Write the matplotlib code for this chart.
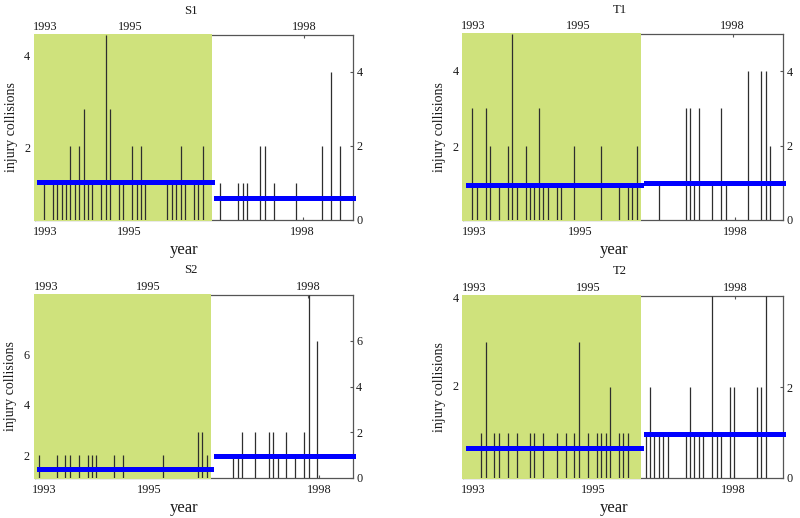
import matplotlib
matplotlib.use("Agg")
import matplotlib.pyplot as plt
from matplotlib.patches import Rectangle
from matplotlib.transforms import blended_transform_factory

plt.rcParams['font.family'] = ['Liberation Serif', 'DejaVu Serif']

# ---------------- data (month index, 1 = Jan 1993) ----------------
titles = ["S1", "T1", "S2", "T2"]

months_S1 = [2, 4, 5, 6, 7, 8, 9, 10, 11, 12, 13, 15, 16, 17, 19, 20, 22, 23, 24, 25,
             30, 31, 32, 33, 34, 36, 37, 38,
             42, 46, 47, 48, 51, 52, 54, 59, 65, 67, 69]
counts_S1 = [1, 1, 1, 1, 1, 2, 1, 2, 3, 1, 1, 1, 5, 3, 1, 1, 2, 1, 2, 1,
             1, 1, 1, 2, 1, 1, 1, 2,
             1, 1, 1, 1, 2, 2, 1, 1, 2, 4, 2]

months_T1 = [2, 3, 5, 6, 8, 10, 11, 12, 14, 15, 16, 17, 18, 19, 21, 22, 25, 31, 35, 37, 38, 39,
             44, 50, 51, 52, 53, 56, 58, 59, 64, 67, 68, 69]
counts_T1 = [3, 1, 3, 2, 1, 2, 5, 1, 2, 1, 1, 3, 1, 1, 1, 1, 2, 2, 1, 1, 1, 2,
             1, 3, 3, 1, 3, 1, 3, 1, 4, 4, 4, 2]

months_S2 = [1, 5, 7, 8, 10, 12, 13, 14, 18, 20, 29, 37, 38, 39,
             45, 46, 47, 50, 53, 54, 55, 57, 59, 61, 62, 64]
counts_S2 = [1, 1, 1, 1, 1, 1, 1, 1, 1, 1, 1, 2, 2, 1,
             1, 1, 2, 2, 2, 2, 1, 2, 1, 2, 8, 6]

months_T2 = [4, 5, 7, 8, 10, 12, 15, 16, 18, 21, 23, 25, 26, 28, 30, 31, 32, 33, 35, 36, 37,
             41, 42, 43, 44, 45, 46, 50, 51, 52, 53, 54, 56, 57, 58, 60, 61, 66, 67, 68]
counts_T2 = [1, 3, 1, 1, 1, 1, 1, 1, 1, 1, 1, 1, 3, 1, 1, 1, 1, 2, 1, 1, 1,
             1, 2, 1, 1, 1, 1, 1, 2, 1, 1, 1, 4, 1, 1, 2, 2, 2, 2, 4]

# period means (before / after)
means_S1 = [1.03, 0.59]
means_T1 = [0.95, 1.00]
means_S2 = [0.40, 0.96]
means_T2 = [0.67, 0.97]

period_start = [1, 41]
period_end = [40, 72]
shade_end = 40
month_range = (0, 72)

year_labels = ["1993", "1995", "1998"]

months = [months_S1, months_T1, months_S2, months_T2]
counts = [counts_S1, counts_T1, counts_S2, counts_T2]
means = [means_S1, means_T1, means_S2, means_T2]

# ---------------- layout / style ----------------
W, H = 800, 518
rects_px = [(35, 35, 353, 220), (463.3, 34, 783.3, 220),
            (34.5, 295, 352.7, 478), (463.3, 296, 783.3, 478)]
right_ylim = [(0, 5), (0, 5), (0, 8), (0, 4)]
right_ticks = [[0, 2, 4], [0, 2, 4], [0, 2, 4, 6], [0, 2]]
left_ylim = [(0.43, 4.45), (0.05, 4.98), (1.09, 8.34), (-0.09, 4.03)]
left_ticks = [[2, 4], [2, 4], [2, 4, 6], [2, 4]]
top_tick_pos = [[2.4, 21.5, 61.0], [2.3, 25.9, 60.6], [2.7, 25.8, 61.9], [2.4, 28.1, 61.1]]
bot_tick_pos = [[2.4, 21.3, 60.6], [2.4, 26.4, 61.1], [2.2, 26.0, 64.4], [2.3, 29.3, 60.8]]
title_gap_px = [24, 24, 25, 25]

GREEN = '#cfe27c'
BAR = '#2e2e2e'
SPINE = '#555555'
TXT = '#1a1a1a'
TICK_FS = 8.8

fig = plt.figure(figsize=(W / 100, H / 100), dpi=100)
fig.patch.set_facecolor('white')

for i in range(4):
    x0, y0, x1, y1 = rects_px[i]
    rect = [x0 / W, 1 - y1 / H, (x1 - x0) / W, (y1 - y0) / H]
    hpx = y1 - y0

    # left value axis (labels only)
    axl = fig.add_axes(rect, zorder=0)
    axl.patch.set_visible(False)
    for s in axl.spines.values():
        s.set_visible(False)
    axl.set_xticks([])
    axl.set_ylim(*left_ylim[i])
    axl.set_yticks(left_ticks[i])
    axl.yaxis.tick_left()
    axl.tick_params(axis='y', length=0, pad=3.5, labelsize=TICK_FS, labelcolor=TXT)
    axl.set_ylabel('injury collisions', fontsize=10, color=TXT)
    axl.yaxis.set_label_coords(-0.075, 0.5)
    axl.yaxis.label.set_va('center')

    # top year axis
    axt = fig.add_axes(rect, zorder=0)
    axt.patch.set_visible(False)
    for s in axt.spines.values():
        s.set_visible(False)
    axt.set_yticks([])
    axt.set_xlim(*month_range)
    axt.xaxis.tick_top()
    axt.set_xticks(top_tick_pos[i], year_labels)
    axt.tick_params(axis='x', direction='in', length=2.5, width=0.8, color=SPINE,
                    pad=1.5, labelsize=TICK_FS, labelcolor=TXT)

    # main data axes
    ax = fig.add_axes(rect, zorder=1)
    ax.patch.set_visible(False)
    ax.set_xlim(*month_range)
    ax.set_ylim(*right_ylim[i])
    for s in ax.spines.values():
        s.set_color(SPINE)
        s.set_linewidth(0.9)

    trans = blended_transform_factory(ax.transData, ax.transAxes)
    ax.add_patch(Rectangle((month_range[0] - 0.2, -0.006), shade_end - month_range[0] + 0.2, 1.012,
                           transform=trans, facecolor=GREEN, edgecolor='none',
                           zorder=2.6, clip_on=False))

    ax.vlines(months[i], 0, counts[i], colors=BAR, linewidth=0.9, zorder=3)

    ax.hlines(means[i], period_start, period_end, colors='#0000ff', linewidth=3.6,
              capstyle='projecting', zorder=4, clip_on=False)

    ax.yaxis.tick_right()
    ax.set_yticks(right_ticks[i])
    ax.tick_params(axis='y', direction='in', length=2.5, width=0.8, color=SPINE,
                   pad=2.5, labelsize=TICK_FS, labelcolor=TXT)
    ax.set_xticks(bot_tick_pos[i], year_labels)
    ax.tick_params(axis='x', direction='in', length=2.5, width=0.8, color=SPINE,
                   pad=4, labelsize=TICK_FS, labelcolor=TXT, top=False)

    ax.set_xlabel('year', fontsize=12, color=TXT)
    ax.xaxis.set_label_coords(0.47, -30 / hpx)
    ax.xaxis.label.set_va('center')

    ax.text(0.49, 1 + title_gap_px[i] / hpx, titles[i], transform=ax.transAxes,
            ha='center', va='center', fontsize=9.2, color=TXT)

fig.savefig('out.png', dpi=100, facecolor='white')
